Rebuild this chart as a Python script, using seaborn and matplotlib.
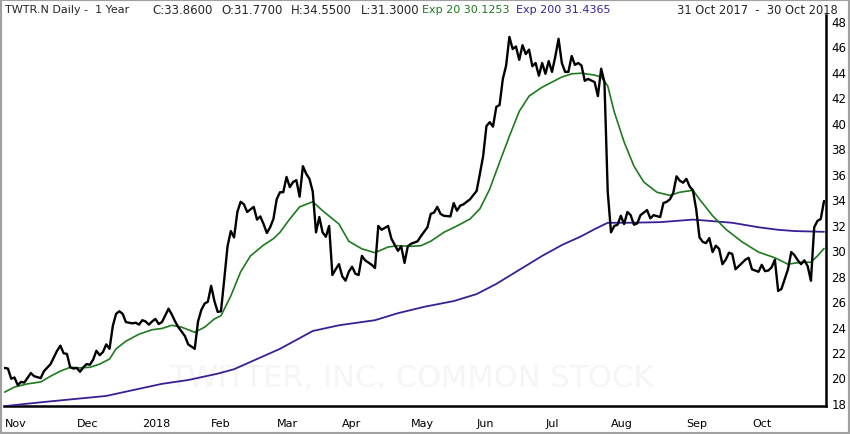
import matplotlib

matplotlib.use("Agg")
import matplotlib.pyplot as plt
import seaborn as sns
from matplotlib.patches import Rectangle

# trading-day index (0 = 31 Oct 2017 ... 250 = 30 Oct 2018) and daily close
price_day = [
    0, 1, 2, 3, 4, 5, 6, 8, 9, 11, 12, 14, 16, 17, 18, 19, 20, 21, 22, 23,
    24, 25, 26, 27, 28, 29, 30, 31, 32, 33, 34, 35, 36, 37, 39, 40, 41, 42, 43, 44,
    45, 46, 47, 48, 50, 51, 52, 53, 55, 56, 58, 59, 60, 61, 62, 63, 64, 65, 66, 67,
    68, 69, 70, 71, 72, 73, 74, 76, 77, 78, 79, 80, 81, 82, 83, 84, 85, 86, 87, 88,
    89, 90, 91, 92, 93, 94, 95, 96, 97, 98, 99, 100, 101, 102, 103, 104, 105, 106, 107, 108,
    109, 110, 112, 113, 114, 115, 117, 118, 120, 121, 122, 123, 124, 126, 127, 129, 130, 131, 132, 133,
    134, 136, 137, 138, 139, 140, 142, 144, 145, 146, 147, 148, 149, 150, 151, 152, 153, 154, 155, 156,
    157, 158, 159, 160, 161, 162, 163, 164, 165, 166, 167, 168, 169, 170, 171, 172, 173, 174, 175, 176,
    177, 178, 180, 181, 182, 183, 184, 185, 186, 187, 188, 189, 190, 191, 192, 193, 194, 196, 197, 198,
    200, 201, 202, 203, 204, 205, 206, 207, 208, 209, 210, 211, 212, 213, 214, 215, 216, 217, 218, 219,
    220, 221, 222, 223, 224, 225, 226, 227, 228, 230, 231, 232, 233, 234, 235, 236, 237, 239, 240, 241,
    242, 243, 244, 245, 246, 247, 248, 249, 250,
]
price_close = [
    20.75, 20.7, 19.9, 20.0, 19.4, 19.65, 19.6, 20.35, 20.1, 19.95, 20.5, 21.05, 22.1, 22.5, 21.9, 21.85, 20.8, 20.7, 20.75, 20.45,
    20.8, 21.05, 21.0, 21.4, 22.1, 21.75, 22.0, 22.6, 22.25, 24.05, 25.0, 25.2, 25.0, 24.35, 24.25, 24.3, 24.15, 24.5, 24.4, 24.15,
    24.4, 24.6, 24.2, 24.35, 25.4, 24.95, 24.4, 23.95, 23.25, 22.6, 22.25, 24.4, 25.3, 25.8, 25.95, 27.2, 26.0, 25.15, 25.2, 27.7,
    30.3, 31.5, 31.0, 33.0, 33.8, 33.6, 33.0, 33.4, 32.4, 32.65, 32.05, 31.35, 31.8, 32.45, 34.0, 34.55, 34.55, 35.75, 34.95, 35.35,
    35.5, 34.2, 36.6, 36.0, 35.6, 34.6, 31.4, 32.6, 31.4, 31.05, 31.9, 28.05, 28.5, 28.9, 27.95, 27.6, 28.3, 28.7, 28.15, 28.05,
    29.55, 29.2, 28.85, 28.6, 31.9, 31.6, 31.9, 30.9, 29.95, 30.3, 29.0, 30.3, 30.5, 30.7, 31.1, 31.8, 32.85, 32.95, 33.4, 32.85,
    32.7, 32.65, 33.7, 33.1, 33.5, 33.6, 34.0, 34.65, 36.0, 37.4, 39.75, 40.05, 39.7, 41.25, 41.4, 43.45, 44.5, 46.75, 45.8, 46.0,
    44.95, 46.1, 45.4, 45.75, 44.45, 44.7, 43.7, 44.7, 43.85, 44.85, 44.0, 45.2, 46.6, 44.7, 44.0, 44.0, 45.25, 44.55, 44.7, 44.5,
    43.3, 43.45, 43.2, 42.1, 44.25, 43.2, 34.6, 31.4, 31.9, 32.0, 32.7, 32.05, 33.0, 32.75, 32.0, 32.1, 32.75, 33.15, 32.5, 32.75,
    32.6, 33.7, 33.8, 34.0, 34.5, 35.8, 35.45, 35.3, 35.6, 35.0, 34.7, 33.2, 31.0, 30.65, 30.55, 30.95, 29.85, 30.35, 30.1, 28.9,
    29.25, 29.8, 29.7, 28.5, 28.75, 29.0, 29.25, 29.4, 28.5, 28.3, 28.85, 28.35, 28.4, 28.65, 29.25, 26.8, 26.95, 28.5, 29.85, 29.6,
    29.2, 28.9, 29.2, 28.75, 27.6, 31.8, 32.3, 32.45, 33.86,
]

ema20_day = [
    0, 3, 7, 11, 14, 17, 20, 23, 26, 29, 32, 34, 37, 41, 45, 48, 51, 54, 58, 61,
    64, 66, 69, 72, 75, 79, 82, 84, 87, 90, 94, 97, 102, 105, 109, 113, 117, 120, 124, 127,
    130, 134, 138, 142, 145, 148, 151, 154, 157, 160, 164, 170, 173, 176, 180, 182, 184, 186, 189, 192,
    195, 199, 203, 206, 210, 212, 216, 220, 225, 230, 235, 239, 243, 246, 248, 250,
]
ema20_val = [
    18.85, 19.25, 19.5, 19.65, 20.1, 20.5, 20.8, 20.75, 20.8, 21.05, 21.45, 22.25, 22.85, 23.4, 23.75, 23.85, 24.1, 23.95, 23.55, 23.95,
    24.6, 24.85, 26.4, 28.3, 29.55, 30.4, 30.9, 31.4, 32.45, 33.4, 33.8, 33.1, 32.05, 30.7, 30.1, 29.8, 30.25, 30.35, 30.3, 30.35,
    30.7, 31.4, 31.9, 32.45, 33.25, 34.8, 36.9, 38.95, 40.9, 42.1, 42.8, 43.6, 43.85, 43.9, 43.75, 43.6, 42.9, 40.85, 38.5, 36.6,
    35.35, 34.55, 34.3, 34.55, 34.7, 34.0, 32.7, 31.65, 30.65, 29.85, 29.4, 28.9, 29.05, 29.05, 29.55, 30.13,
]

ema200_day = [
    0, 11, 19, 31, 39, 48, 56, 65, 70, 77, 84, 89, 94, 102, 113, 120, 128, 137, 144, 150,
    157, 164, 170, 176, 180, 184, 190, 200, 210, 215, 222, 230, 236, 241, 250,
]
ema200_val = [
    17.75, 18.05, 18.25, 18.55, 19.0, 19.5, 19.8, 20.3, 20.65, 21.45, 22.25, 22.95, 23.65, 24.1, 24.5, 25.05, 25.55, 26.0, 26.55, 27.35,
    28.45, 29.55, 30.4, 31.1, 31.65, 32.15, 32.15, 32.2, 32.4, 32.3, 32.15, 31.8, 31.6, 31.5, 31.44,
]

month_days = [0, 22, 42, 63, 83, 103, 124, 144, 165, 185, 208, 228]
month_labels = ["Nov", "Dec", "2018", "Feb", "Mar", "Apr", "May", "Jun", "Jul", "Aug", "Sep", "Oct"]
price_ticks = list(range(18, 50, 2))

green = "#1e7a1e"
purple = "#3a1f94"

sns.set_style("white")
plt.rcParams["font.family"] = ["DejaVu Sans"]

W, H = 850, 435
fig = plt.figure(figsize=(8.5, 4.35), dpi=100)
ax = fig.add_axes([4 / W, 1 - 407 / H, 822 / W, 391 / H])

sns.lineplot(x=ema200_day, y=ema200_val, color=purple, lw=1.3, ax=ax, zorder=3)
sns.lineplot(x=ema20_day, y=ema20_val, color=green, lw=1.2, ax=ax, zorder=4)
sns.lineplot(x=price_day, y=price_close, color="black", lw=1.7, ax=ax, zorder=5)

ax.text(0.495, 0.072, "TWITTER, INC. COMMON STOCK", transform=ax.transAxes,
        fontsize=22, color="#f5f5f5", ha="center", va="center", zorder=1)

ax.set_xlim(-0.2, 250.6)
ax.set_ylim(17.76, 48.47)
ax.set_xticks(month_days)
ax.set_xticklabels(month_labels, ha="left", fontsize=8)
ax.yaxis.tick_right()
ax.set_yticks(price_ticks)
ax.set_yticklabels([str(t) for t in price_ticks], fontsize=8.5)
ax.tick_params(axis="x", direction="out", length=6, width=1.6, pad=3, colors="black")
ax.tick_params(axis="y", length=0, pad=4, colors="black")
ax.set_xlabel("")
ax.set_ylabel("")

for side in ["left", "top"]:
    ax.spines[side].set_visible(False)
for side in ["right", "bottom"]:
    ax.spines[side].set_color("black")
    ax.spines[side].set_linewidth(1.8)

y_head = 1 - 10 / H
fig.text(5 / W, y_head, "TWTR.N Daily -  1 Year", fontsize=8, va="center")
for x_px, txt in [(152, "C:33.8600"), (221, "O:31.7700"), (291, "H:34.5500"), (361, "L:31.3000")]:
    fig.text(x_px / W, y_head, txt, fontsize=8.5, va="center")
fig.text(422 / W, y_head, "Exp 20 30.1253", fontsize=8, va="center", color=green)
fig.text(516 / W, y_head, "Exp 200 31.4365", fontsize=8, va="center", color=purple)
fig.text(838 / W, y_head, "31 Oct 2017  -  30 Oct 2018", fontsize=8.3, va="center", ha="right")

fig.patches.append(Rectangle((0, 0), 1, 1, transform=fig.transFigure, fill=False,
                             edgecolor="#a0a0a0", lw=3))

fig.savefig("out.png", dpi=100)
